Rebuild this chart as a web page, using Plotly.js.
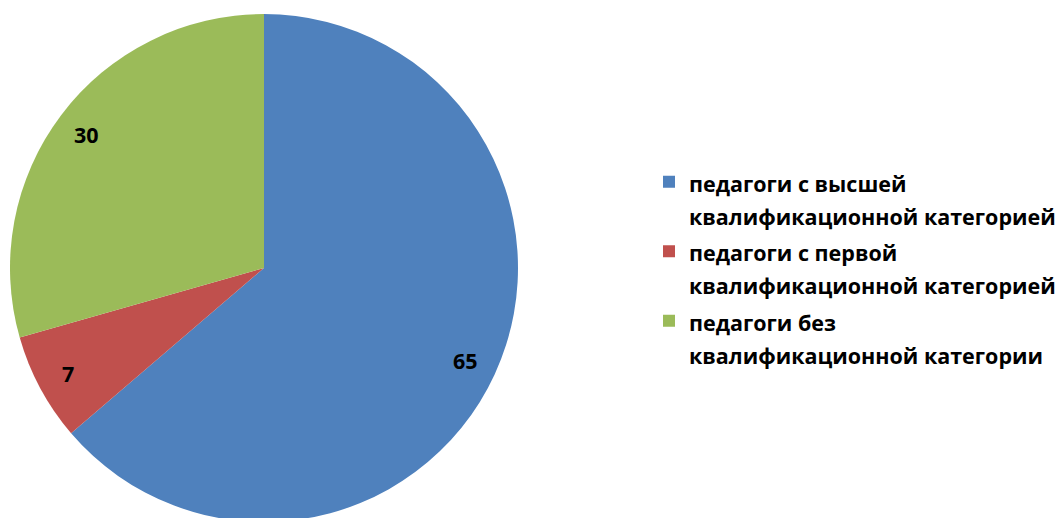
<!DOCTYPE html>
<html>
<head>
<meta charset="utf-8">
<script src="https://cdn.plot.ly/plotly-3.0.1.min.js"></script>
<style>
html,body{margin:0;padding:0;overflow:hidden;background:#fff;}
#chart{width:1056px;height:530px;}
</style>
</head>
<body>
<div id="chart"></div>
<script>
const categories = [
  "педагоги с высшей<br>квалификационной категорией",
  "педагоги с первой<br>квалификационной категорией",
  "педагоги без<br>квалификационной категории"
];
const values = [65, 7, 30];
const colors = ["#4F81BD", "#C0504D", "#9BBB59"];

const W = 1056, H = 530;
const cx = 264, cy = 268, R = 254;
const mt = cy - R, mb = H - (cy + R);
const plotH = H - mt - mb;
const FS = 21.5;

// Data labels placed along each slice's mid-angle (computed from the values)
const total = values.reduce((a, b) => a + b, 0);
let cum = 0;
const annotations = values.map(v => {
  const mid = (cum + v / 2) / total * 2 * Math.PI;
  cum += v;
  const rr = 0.875 * R;
  const px = cx + rr * Math.sin(mid);
  const py = cy - rr * Math.cos(mid);
  return {
    xref: "paper", yref: "paper",
    x: px / W, y: 1 - (py - mt) / plotH,
    xanchor: "center", yanchor: "middle",
    text: String(v), showarrow: false,
    font: {family: "Open Sans", size: FS, color: "#000000", weight: "bold"}
  };
});

const trace = {
  type: "pie",
  labels: categories.map(c => '<span style="font-size:' + FS + 'px">' + c + '</span>'),
  values: values,
  sort: false,
  direction: "clockwise",
  rotation: 0,
  marker: {colors: colors, line: {width: 0}},
  textinfo: "none",
  hoverinfo: "label+value",
  domain: {x: [(cx - R) / W, (cx + R) / W], y: [0, 1]}
};

const layout = {
  width: W,
  height: H,
  margin: {l: 0, r: 0, t: mt, b: mb, autoexpand: false},
  paper_bgcolor: "#ffffff",
  showlegend: true,
  annotations: annotations,
  legend: {
    x: 649 / W, xanchor: "left",
    y: 0.5, yanchor: "middle",
    valign: "top",
    font: {family: "Open Sans", size: 25.6, color: "#000000", weight: "bold"},
    itemwidth: 30
  }
};

Plotly.newPlot("chart", [trace], layout, {displayModeBar: false, staticPlot: true});
</script>
</body>
</html>
